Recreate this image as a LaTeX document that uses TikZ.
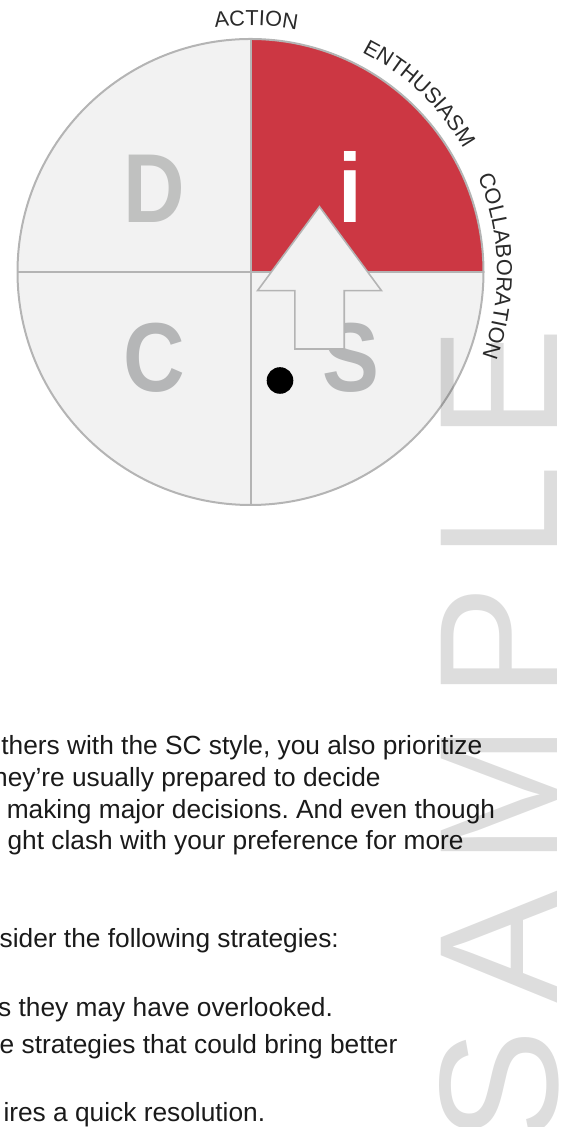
\documentclass[tikz,border=0pt]{standalone}
\usepackage{fontspec}
\setmainfont{Liberation Sans}
\usetikzlibrary{calc,decorations.text}
\definecolor{DiscRed}{HTML}{CC3743}
\definecolor{DiscFill}{HTML}{F2F2F2}
\definecolor{DiscEdge}{HTML}{B4B4B4}
\definecolor{DiscLetterD}{HTML}{C0C1C0}
\definecolor{DiscLetter}{HTML}{B5B6B7}
\definecolor{LabelInk}{HTML}{2A2A2A}
\definecolor{BodyInk}{HTML}{1A1A1A}
\frenchspacing
\newcommand\arcfont{\fontsize{21.7}{24}\selectfont\color{LabelInk}}
\tikzset{disc/.style={circle,fill=DiscFill,minimum size=466pt,inner sep=0pt,
 outer sep=0pt},edgeline/.style={draw=DiscEdge,line width=2pt},
 bigletter/.style={anchor=base,inner sep=0pt,xscale=.87,
 font=\fontsize{98}{100}\selectfont\bfseries},
 bodytext/.style={anchor=base west,inner sep=0pt,text=BodyInk,
 font=\fontsize{26.3}{30}\selectfont},
 arclabel/.style={decorate,decoration={text along path,text align=center,
 text={|\arcfont|#1}}},
 stamp/.style={anchor=base west,rotate=90,inner sep=0pt,text=black,text opacity=.135,
 font=\fontsize{169}{170}\selectfont\addfontfeature{LetterSpace=15.3}}}
\begin{document}
\begin{tikzpicture}[x=1pt,y=1pt]
\useasboundingbox (0,0) rectangle (561,1127);
% DiSC wheel
\node[disc] (disc) at (250.5,855) {};
\fill[DiscRed] (disc.center) -- (disc.east) arc[start angle=0,end angle=90,radius=233pt] -- cycle;
\draw[edgeline] (disc.center) circle[radius=233pt];
\draw[edgeline] (disc.west) -- (disc.east);
\draw[edgeline] (disc.north) -- (disc.south);
\foreach \x/\y/\lab/\col in {154.5/904/D/DiscLetterD,350/904/i/white,
 154/735.5/C/DiscLetter,350.5/735.5/S/DiscLetter}
 {\node[bigletter,text=\col] (q\lab) at (\x,\y) {\lab};}
\coordinate (tip) at (319.5,920.3);
\draw[edgeline,line width=1.6pt,fill=DiscFill] (tip) -- ++(62,-84) -- ++(-37.3,0)
 -- ++(0,-58.3) -- ++(-49.4,0) -- ++(0,58.3) -- ++(-37.3,0) -- cycle;
\node[circle,fill=black,minimum size=26.6pt,inner sep=0pt] (dot) at (280,746.5) {};
% labels round the rim
\path[arclabel=ACTION] ($(disc.center)+(128.7:246.5pt)$)
 arc[start angle=128.7,end angle=48.7,radius=246.5pt];
\path[arclabel=ENTHUSIASM] ($(disc.center)+(81.6:246.5pt)$)
 arc[start angle=81.6,end angle=11.6,radius=246.5pt];
\path[arclabel=COLLABORATION] ($(disc.center)+(41.4:246.5pt)$)
 arc[start angle=41.4,end angle=-38.6,radius=246.5pt];
% text below
\foreach \y/\x/\txt [count=\k] in {372/1.2/{thers with the SC style, you also prioritize},
 340.5/-7/{hey’re usually prepared to decide},
 308.7/6.6/{making major decisions. And even though},
 277/7.4/{ght clash with your preference for more},
 179.5/-0.5/{sider the following strategies:},
 110.3/-2/{s they may have overlooked.},
 73.7/-0.5/{e strategies that could bring better},
 5.3/3.3/{ires a quick resolution.}}
 {\node[bodytext] (line\k) at (\x,\y) {\txt};}
\node[stamp] (sample) at (557,-15.5) {SAMPLE};
\end{tikzpicture}
\end{document}
